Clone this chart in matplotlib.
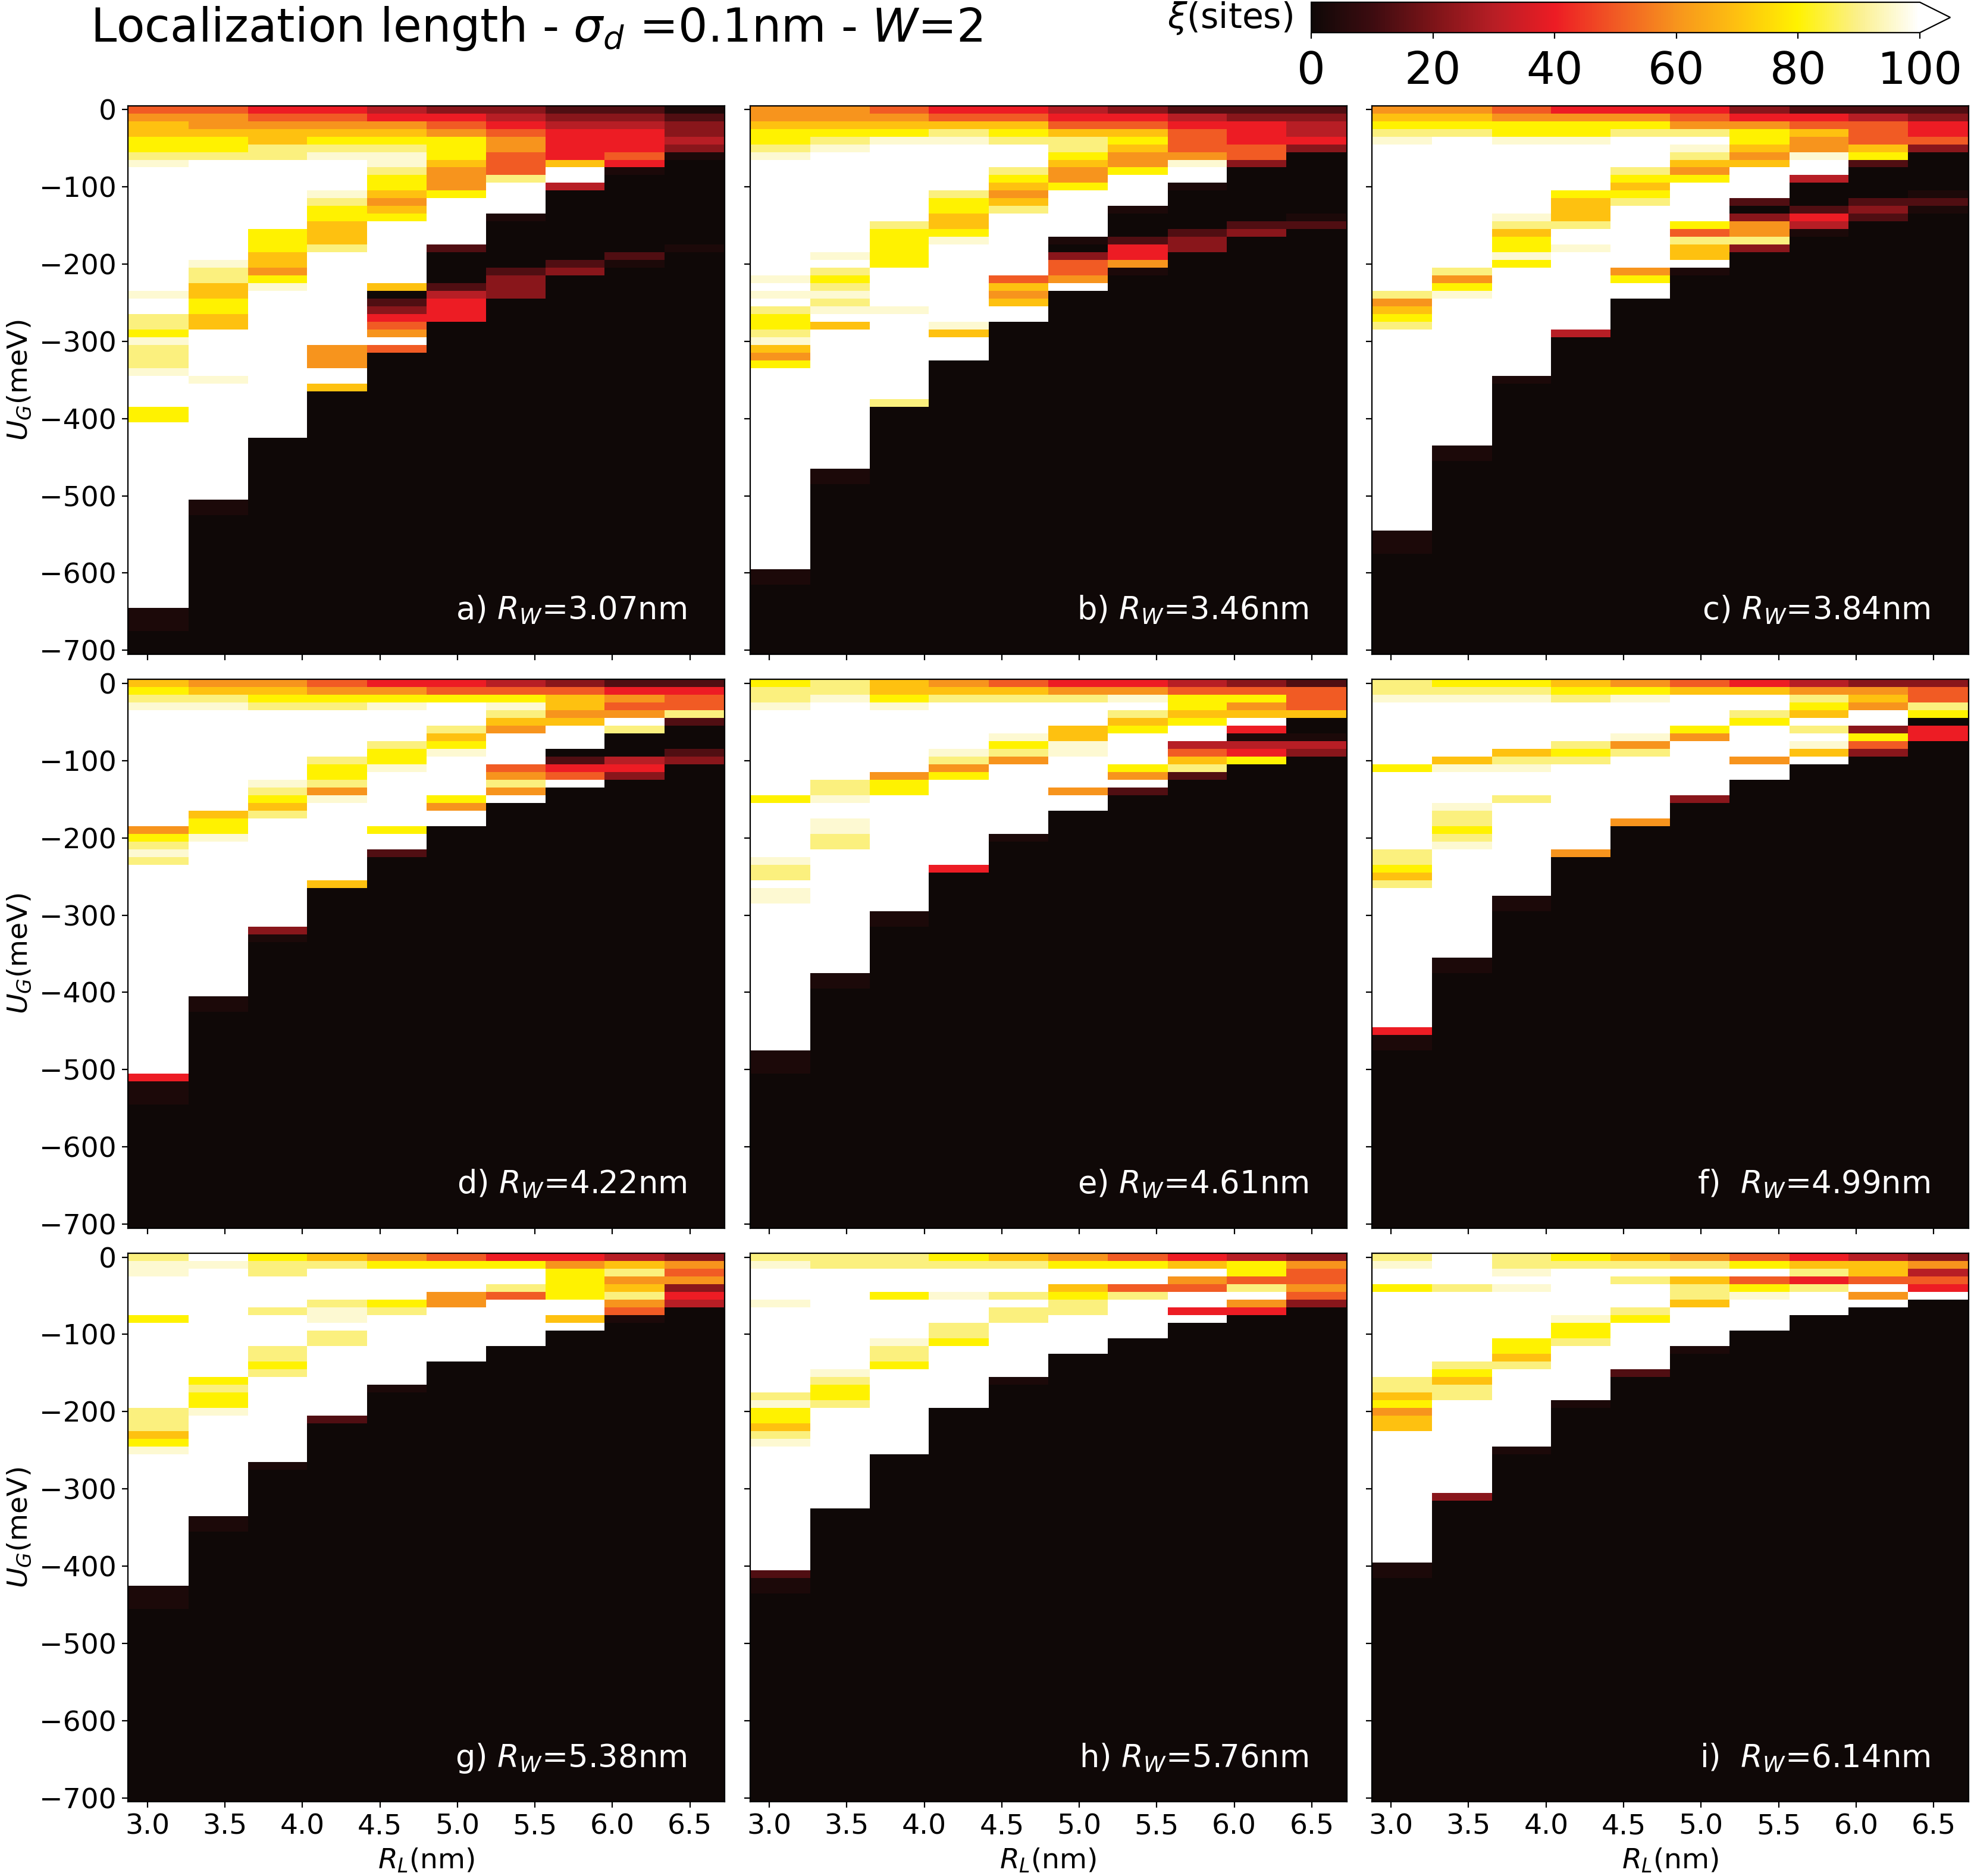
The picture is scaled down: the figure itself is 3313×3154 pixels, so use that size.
import numpy as np
import matplotlib
matplotlib.use('Agg')
from matplotlib import pyplot as plt
from matplotlib.colors import LinearSegmentedColormap


R_L = [3.07, 3.46, 3.84, 4.22, 4.61, 4.99, 5.38, 5.76, 6.14, 6.53]
U_G = np.arange(0, -701, -10)

# one letter per 10 meV row (top = 0 meV), optional repeat count; rows not listed are 0
LEVELS = {'.': 0, 'k': 3, 'm': 13, 'd': 22, 'c': 30, 'r': 40, 'n': 50,
          'o': 60, 'g': 70, 'y': 80, 'l': 89, 'p': 96, 'w': 150}

xi_a = ["n o g g y y l p w16 p w2 l l y p l l l p w4 y y w24 k3 .",
        "n o o g y y l w13 p l l g g y y g g w6 p w15 k2 .",
        "r n o g g l l w9 y y y g g o y p w19 .",
        "r n o g y l p w4 p l y y g g g l w12 o o o w2 g .",
        "c r o g y l p p l y y g o g y w8 g . m d r n o w n .",
        "d r n o y y y g o o o y w6 m . . . . m c r r r .",
        "d c r n o o n n n l w4 k .6 m d d d .",
        "m d c r r r r g w2 c .9 m d .",
        "m d c r r r n r k .10 m k .",
        "k m d d c d k .11 k ."]

xi_b = ["o o g y y l p w15 p w p w l y y l p g o y w26 k2 .",
        "o o g y l p w13 p w l y l p l p w g w18 k2 .",
        "n o g y p w10 l y y y y y w5 p w11 l .",
        "r n g l p w6 l y y g g y p w10 p g w3 .",
        "r n g y l w3 l y g o g l w8 n g o g w2 .",
        "c r n g l l y g o o y w6 k . d n n o w .",
        "d r n g y g o o y w4 k . . . m r r o k .",
        "m c r n n n o p w2 k .5 m d d .",
        "m d r r r n n d .7 m d .",
        "m d c c r d .8 k m ."]

xi_c = ["o g y l p w19 l o g y l w26 k3 .",
        "o g y l w17 l o y p w19 k2 .",
        "n o y y p w9 p l g y y p y w14 k .",
        "r o y y p w6 y g g g l w2 p w10 c .",
        "r o y l w4 l y g y l w8 o y w2 .",
        "r n o l w p l g o y w5 y n l g g w k .",
        "d r o y y g o g w4 m . d o o l d .",
        "m r n g o o p w2 c .3 m r c k .",
        "m c n n n g y m .4 m d m .",
        "m d r r n d .5 k m k ."]

xi_d = ["g y l p w15 o y l p l w27 r k3 .",
        "o g l p w13 g y y p w20 k2 .",
        "o g y l w9 p l y g l w14 d k .",
        "n o y l w6 l y y l o p w10 g .",
        "r o y p w4 l y y p w7 y w2 m .",
        "r n y w3 l g y p w5 y o w2 .",
        "c n y p l g o w4 n o l o w .",
        "d n g g o g w3 . m r n w .",
        "m r o n o w l . . . c r d .",
        "m r n n l m . . . m d ."]

xi_e = ["y l l p w11 y w7 p l l w p p w19 k3 .",
        "l l p w10 l l p w2 p p l l w16 k2 .",
        "g g y p w8 o y y w15 k2 .",
        "o g l w6 p l o y w11 r .",
        "n g l w4 p y l o w9 k .",
        "r o l w3 g g p p w4 o w2 .",
        "r o p w l g y w4 y o w m .",
        "c n y y g y w2 c n g l m .",
        "d n y o g w r k c r y .",
        "m n n n g . . k c d ."]

xi_f = ["l l p w8 y w10 l l y g l w18 r k2 .",
        "y l p w7 g p w4 p l l y l p w14 k2 .",
        "y l p w6 g l p w3 l w12 k2 .",
        "g y l w5 l y l w11 o .",
        "o y p w4 p o l w8 o .",
        "n g w4 y o w7 d .",
        "r g w2 l y w4 o w2 .",
        "c o l y g w l w p g w .",
        "d o g o w2 d y n d .",
        "d n n l y . r r ."]

xi_g = ["l p p w5 y w11 l l l g y p w17 k3 .",
        "w p w14 y l y y p w13 k2 .",
        "y l l w4 l w4 l l y l w11 k .",
        "g l w4 l p p w l l w9 m .",
        "o y w4 y l w9 k .",
        "n y w3 o o w7 .",
        "r y w2 l n w6 .",
        "r o y y y y w2 g w .",
        "c g l o g l o n k .",
        "d o n o d r c ."]

xi_h = ["l p w4 p w11 l p y y g l p w16 m k2 .",
        "l l w13 p l y y l w13 .",
        "l l w3 y w5 p l l y w11 .",
        "y l w3 p w3 l l y w8 .",
        "g l w3 l w l l w7 k .",
        "o y w2 g y l l w5 .",
        "n y w2 n l w5 .",
        "r g w o n w2 r w .",
        "c y y n l w o r .",
        "d o n n o n d ."]

xi_i = ["l p w2 y w11 l l g y o g g w17 k2 .",
        "w4 l w9 l y g l l w12 d .",
        "l l p w p w6 y y g l w10 k .",
        "y l w6 p y y l w7 k .",
        "g l w l w3 l y w6 m .",
        "o l w g l l g w5 k .",
        "n y w n y p w4 .",
        "r g l r l w3 .",
        "c g g n w o w .",
        "d o c n r w ."]

labels = ['a) ', 'b) ', 'c) ', 'd) ', 'e) ', 'f)  ', 'g) ', 'h) ', 'i)  ']
R_W = ['3.07', '3.46', '3.84', '4.22', '4.61', '4.99', '5.38', '5.76', '6.14']
panels = [xi_a, xi_b, xi_c, xi_d, xi_e, xi_f, xi_g, xi_h, xi_i]


def decode(col):
    vals = []
    for tok in col.split():
        n = int(tok[1:]) if len(tok) > 1 else 1
        vals += [LEVELS[tok[0]]] * n
    vals += [0] * (len(U_G) - len(vals))
    return vals[:len(U_G)]


cmap = LinearSegmentedColormap.from_list('xi', [
    (0.0, '#0f0807'), (0.1, '#3d0c10'), (0.2, '#7d1418'), (0.3, '#b81e25'),
    (0.4, '#ed1c24'), (0.5, '#f15a24'), (0.6, '#f7941d'), (0.7, '#fec010'),
    (0.8, '#fff200'), (0.9, '#fbf08c'), (1.0, '#ffffff')])
cmap.set_over('white')

fig = plt.figure(figsize=(16.565, 15.77), dpi=200)
axes = fig.subplots(3, 3)
fig.subplots_adjust(left=0.065, right=0.9987, top=0.9437, bottom=0.0395,
                    wspace=0.042, hspace=0.046)

for k, ax in enumerate(axes.flat):
    Z = np.array([decode(c) for c in panels[k]]).T
    mesh = ax.pcolormesh(R_L, U_G, Z, cmap=cmap, vmin=0, vmax=100, shading='nearest')
    ax.set_xticks([3.0, 3.5, 4.0, 4.5, 5.0, 5.5, 6.0, 6.5])
    ax.set_yticks([0, -100, -200, -300, -400, -500, -600, -700])
    ax.tick_params(labelsize=17)
    row, col = divmod(k, 3)
    if col == 0:
        ax.set_ylabel('$U_G$(meV)', fontsize=17)
    else:
        ax.tick_params(labelleft=False)
    if row == 2:
        ax.set_xlabel('$R_L$(nm)', fontsize=17)
    else:
        ax.tick_params(labelbottom=False)
    ax.text(0.936, 0.063, labels[k] + '$R_W$=' + R_W[k] + 'nm', transform=ax.transAxes,
            ha='right', va='baseline', color='white', fontsize=19)

fig.text(0.0459, 0.9778, r'Localization length - $\sigma_d$ =0.1nm - $W$=2',
         fontsize=28, ha='left', va='baseline')

cax = fig.add_axes([0.6653, 0.9826, 0.3242, 0.0162])
cb = fig.colorbar(mesh, cax=cax, orientation='horizontal', extend='max',
                  ticks=[0, 20, 40, 60, 80, 100])
cb.ax.tick_params(labelsize=27, pad=7)
fig.text(0.656, 0.9851, r'$\xi$(sites)', fontsize=21, ha='right', va='baseline')

fig.savefig('out.png', dpi=200)
